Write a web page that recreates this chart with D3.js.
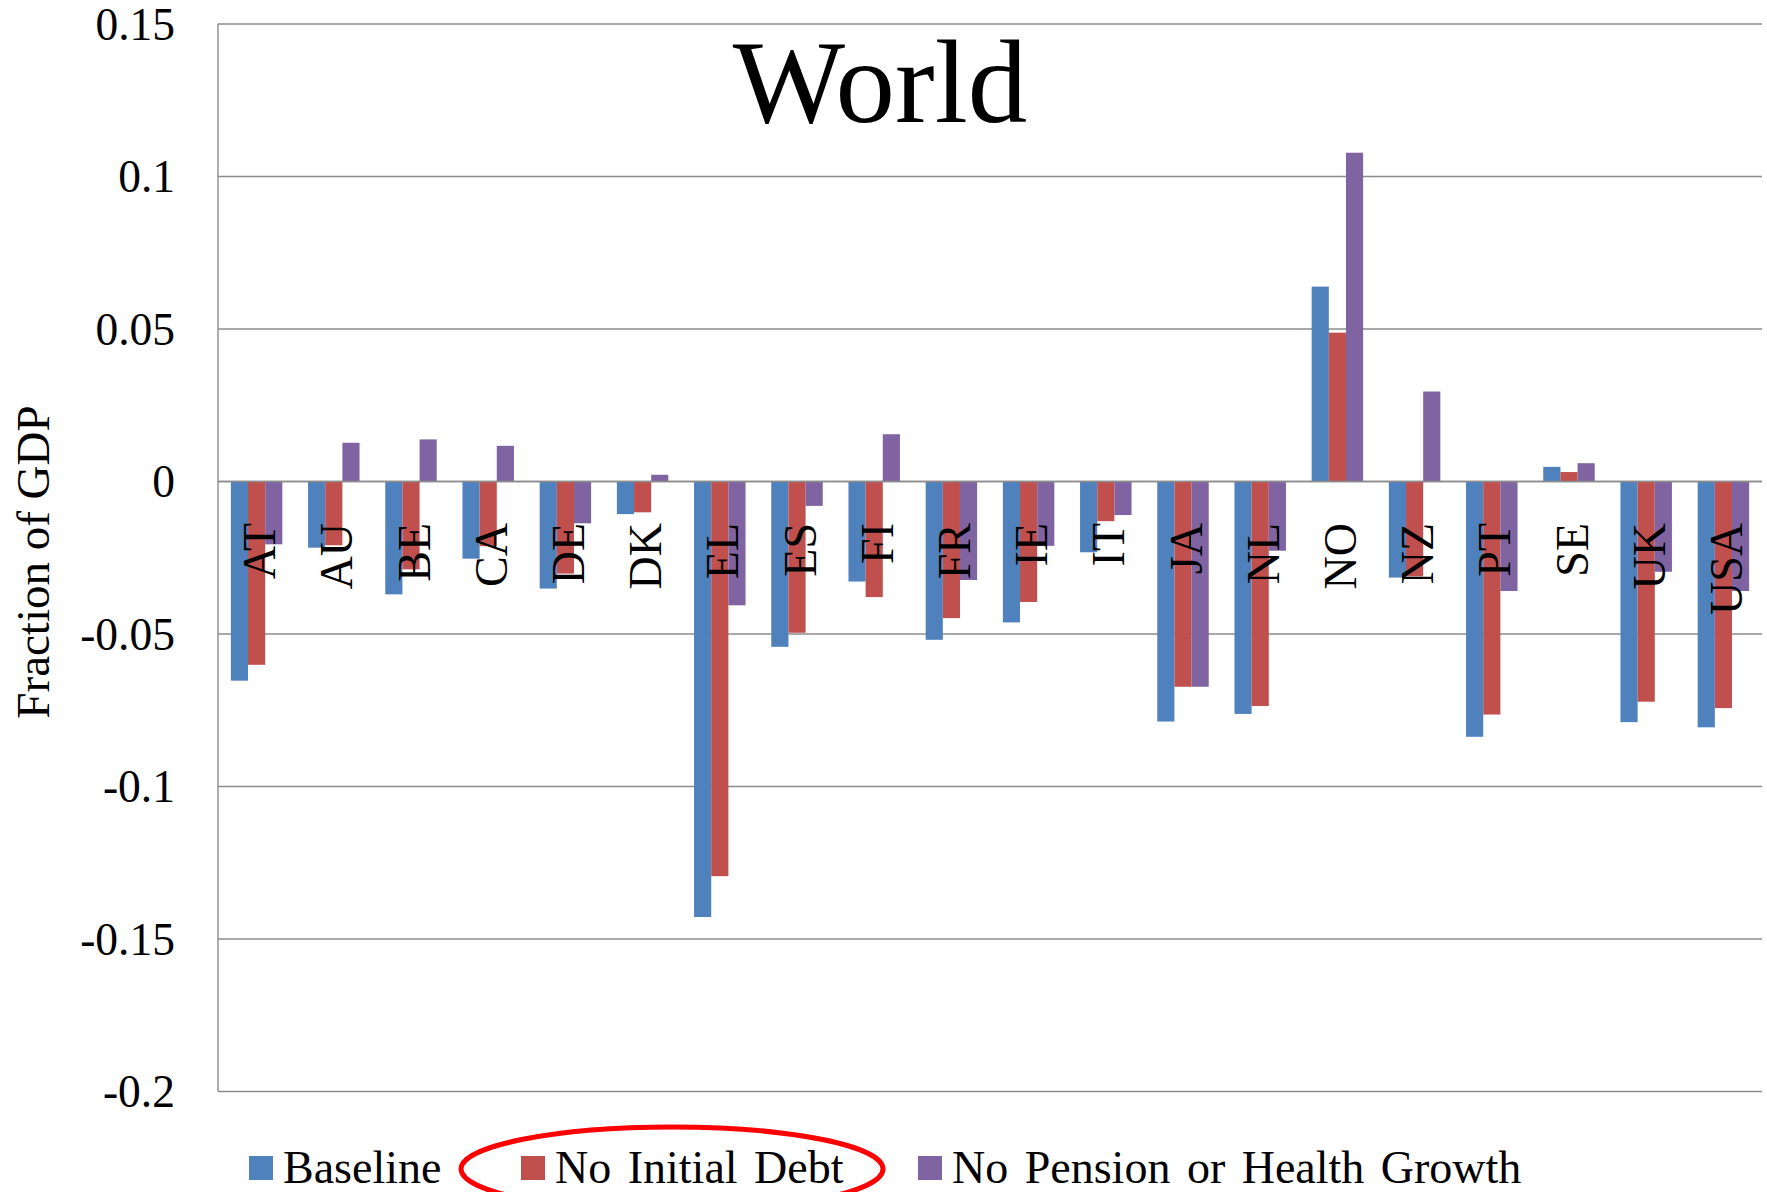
<!DOCTYPE html>
<html>
<head>
<meta charset="utf-8">
<script src="https://cdn.jsdelivr.net/npm/d3@7"></script>
<style>
  html, body { margin: 0; padding: 0; background: #fff; }
  svg { display: block; }
  text { font-family: "Liberation Serif", "Times New Roman", serif; fill: #000; }
</style>
</head>
<body>
<svg id="chart" width="1767" height="1192"></svg>
<script>
// Countries on the category axis
const countries = ["AT","AU","BE","CA","DE","DK","EL","ES","FI","FR","IE","IT","JA","NL","NO","NZ","PT","SE","UK","USA"];

// Fiscal gap as a fraction of GDP, one array per scenario
const baseline  = [-0.0653,-0.0217,-0.0370,-0.0253,-0.0351,-0.0107,-0.1428,-0.0542,-0.0328,-0.0519,-0.0462,-0.0232,-0.0787,-0.0762, 0.0639,-0.0315,-0.0837, 0.0048,-0.0789,-0.0806];
const noInitialDebt = [-0.0601,-0.0209,-0.0288,-0.0212,-0.0302,-0.0101,-0.1294,-0.0496,-0.0379,-0.0448,-0.0395,-0.0130,-0.0673,-0.0736, 0.0488,-0.0311,-0.0764, 0.0031,-0.0722,-0.0743];
const noPensionHealth = [-0.0206, 0.0127, 0.0138, 0.0117,-0.0137, 0.0022,-0.0406,-0.0080, 0.0155,-0.0323,-0.0211,-0.0110,-0.0673,-0.0227, 0.1078, 0.0295,-0.0359, 0.0060,-0.0296,-0.0359];

const seriesNames = ["Baseline", "No Initial Debt", "No Pension or Health Growth"];
const seriesColors = ["#4F81BD", "#C0504D", "#8064A2"];

// Value-axis ticks and their printed labels
const yTicks = [0.15, 0.1, 0.05, 0, -0.05, -0.1, -0.15, -0.2];
const yTickLabels = ["0.15", "0.1", "0.05", "0", "-0.05", "-0.1", "-0.15", "-0.2"];

const series = [baseline, noInitialDebt, noPensionHealth];

const svg = d3.select("#chart");
const plot = { left: 218, right: 1762, top: 24, bottom: 1091.5 };

const y = d3.scaleLinear().domain([-0.2, 0.15]).range([plot.bottom, plot.top]);
const x0 = d3.scaleBand().domain(countries).range([plot.left, plot.right])
  .paddingInner(1/3).paddingOuter(1/6);
const x1 = d3.scaleBand().domain(d3.range(series.length)).range([0, x0.bandwidth()]);

// Horizontal gridlines
svg.append("g").selectAll("line").data(yTicks).join("line")
  .attr("x1", plot.left).attr("x2", plot.right)
  .attr("y1", d => y(d)).attr("y2", d => y(d))
  .attr("stroke", "#8c8c8c").attr("stroke-width", 1.4);

// Vertical axis line
svg.append("line")
  .attr("x1", plot.left).attr("x2", plot.left)
  .attr("y1", plot.top).attr("y2", plot.bottom)
  .attr("stroke", "#8c8c8c").attr("stroke-width", 1.4);

// Clustered bars
const groups = svg.append("g").selectAll("g").data(countries).join("g")
  .attr("transform", c => `translate(${x0(c)},0)`);
groups.selectAll("rect")
  .data((c, i) => series.map((s, k) => ({ k, v: s[i] })))
  .join("rect")
  .attr("x", d => x1(d.k))
  .attr("width", x1.bandwidth())
  .attr("y", d => y(Math.max(0, d.v)))
  .attr("height", d => Math.abs(y(d.v) - y(0)))
  .attr("fill", d => seriesColors[d.k]);

// Zero line drawn over the bars
svg.append("line")
  .attr("x1", plot.left).attr("x2", plot.right)
  .attr("y1", y(0)).attr("y2", y(0))
  .attr("stroke", "#8c8c8c").attr("stroke-width", 1.4);

// Value-axis labels
const yAxis = d3.axisLeft(y).tickValues(yTicks)
  .tickFormat((d, i) => yTickLabels[i]).tickSize(0).tickPadding(43);
const ya = svg.append("g").attr("transform", `translate(${plot.left},0)`).call(yAxis);
ya.select(".domain").remove();
ya.selectAll("text")
  .style("font-family", '"Liberation Serif", "Times New Roman", serif')
  .style("font-size", "45.5px").attr("fill", "#000").attr("dy", "0.34em");

// Category labels, rotated, just below the zero line
svg.append("g").selectAll("text").data(countries).join("text")
  .attr("transform", c => `translate(${x0(c) + x0.bandwidth() / 2 + 3},523) rotate(-90)`)
  .attr("text-anchor", "end")
  .attr("dominant-baseline", "central")
  .style("font-size", "46px")
  .text(c => c);

// Axis title
svg.append("text")
  .attr("transform", "translate(49,562) rotate(-90)")
  .attr("text-anchor", "middle")
  .style("font-size", "47px")
  .text("Fraction of GDP");

// Chart title
svg.append("text")
  .attr("x", 880).attr("y", 122)
  .attr("text-anchor", "middle")
  .style("font-size", "119px")
  .text("World");

// Legend
const legendX = [249, 521, 918];
const legend = svg.append("g").selectAll("g").data(seriesNames).join("g")
  .attr("transform", (d, i) => `translate(${legendX[i]},1156)`);
legend.append("rect").attr("width", 24).attr("height", 24)
  .attr("fill", (d, i) => seriesColors[i]);
legend.append("text").attr("x", 34).attr("y", 27)
  .style("font-size", "46px").style("word-spacing", "5px").text(d => d);

// Highlight ring around the second legend entry
svg.append("ellipse")
  .attr("cx", 672).attr("cy", 1169).attr("rx", 211).attr("ry", 42)
  .attr("fill", "none").attr("stroke", "#ff0000").attr("stroke-width", 5);
</script>
</body>
</html>
